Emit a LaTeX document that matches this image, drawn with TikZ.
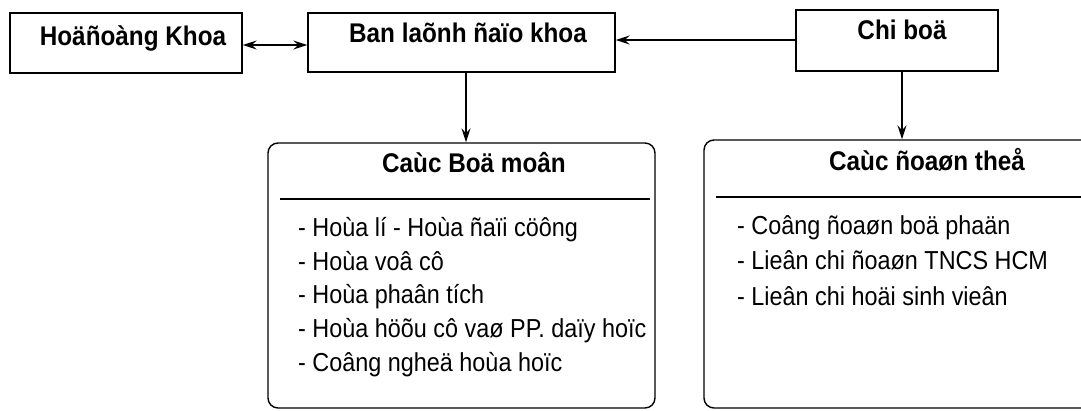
\documentclass[tikz,border=0pt]{standalone}
\usepackage{fontspec}
\setmainfont[FakeStretch=0.9]{Liberation Sans}
\usetikzlibrary{arrows.meta}
\tikzset{
  box/.style={draw, line width=1.4pt, inner sep=0pt},
  rbox/.style={draw, line width=1.4pt, inner sep=0pt, rounded corners=10pt},
  head/.style={inner sep=0pt, font=\fontsize{27}{32}\selectfont\bfseries},
  item/.style={inner sep=0pt, anchor=base west, font=\fontsize{26}{31}\selectfont},
  mytip/.tip={Stealth[length=14pt,width=9pt,inset=5pt]},
  conn/.style={line width=1.4pt, -mytip},
  sep/.style={line width=1.4pt}
}
\begin{document}
\begin{tikzpicture}[x=1pt,y=-1pt]
\useasboundingbox (0,0) rectangle (1081,410);
% top boxes
\node[box, minimum width=232pt, minimum height=60pt] (hdk) at (126,43) {};
\node[box, minimum width=307pt, minimum height=59pt] (bld) at (461.5,42.5) {};
\node[box, minimum width=202pt, minimum height=61pt] (cb) at (897,40.5) {};
\node[head, anchor=base] (thdk) at (133,45.5) {Hoäñoàng Khoa};
\node[head, anchor=base] (tbld) at (468,42) {Ban laõnh ñaïo khoa};
\node[head, anchor=base] (tcb) at (902,39.5) {Chi boä};
% lower boxes
\node[rbox, minimum width=387pt, minimum height=265pt] (bm) at (461.5,275.5) {};
\node[rbox, minimum width=391pt, minimum height=268pt] (dt) at (899.5,274) {};
\node[head, anchor=base] (tbm) at (474,172) {Caùc Boä moân};
\node[head, anchor=base] (tdt) at (927,170) {Caùc ñoaøn theå};
\coordinate (s1a) at (280,199); \coordinate (s1b) at (650,199);
\coordinate (s2a) at (716,197); \coordinate (s2b) at (1095,197);
\draw[sep] (s1a) -- (s1b);
\draw[sep] (s2a) -- (s2b);
% items
\node[item] (i1) at (298,236) {- Hoùa lí - Hoùa ñaïi cöông};
\node[item] (i2) at (298,270) {- Hoùa voâ cô};
\node[item] (i3) at (298,303.5) {- Hoùa phaân tích};
\node[item] (i4) at (298,337) {- Hoùa höõu cô vaø PP. daïy hoïc};
\node[item] (i5) at (298,371) {- Coâng ngheä hoùa hoïc};
\node[item] (j1) at (737,234) {- Coâng ñoaøn boä phaän};
\node[item] (j2) at (737,269) {- Lieân chi ñoaøn TNCS HCM};
\node[item] (j3) at (737,305) {- Lieân chi hoäi sinh vieân};
% connectors
\draw[line width=1.4pt, mytip-mytip] (hdk.east |- 0,45) -- (bld.west |- 0,45);
\draw[conn] (cb.west |- 0,40) -- (bld.east |- 0,40);
\draw[conn] (bld.south -| 466,0) -- (bm.north -| 466,0);
\draw[conn] (cb.south -| 902,0) -- (dt.north -| 902,0);
\end{tikzpicture}
\end{document}
